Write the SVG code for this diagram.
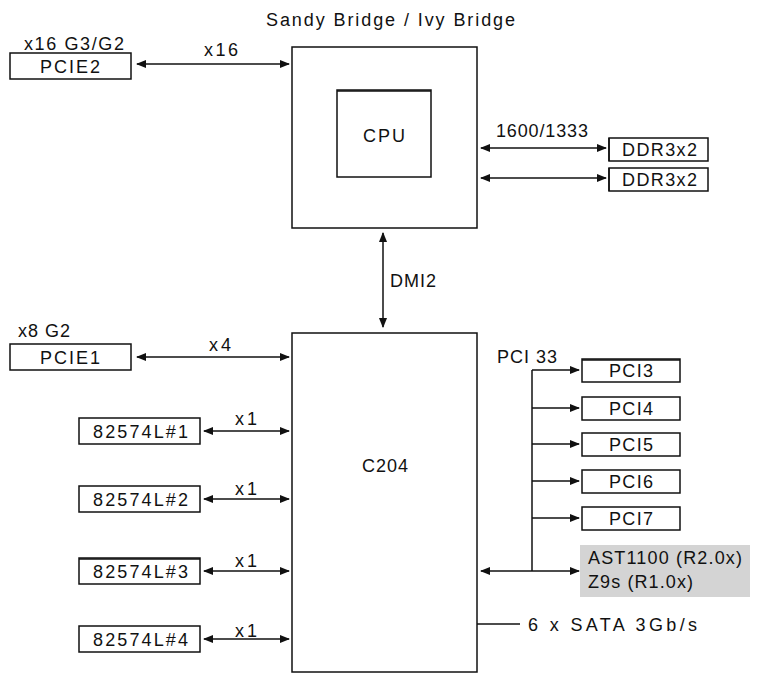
<svg xmlns="http://www.w3.org/2000/svg" width="757" height="678" viewBox="0 0 757 678">
<style>
text{font-family:"Liberation Sans",Arial,sans-serif;font-size:18px;fill:#111}
.b{fill:#fff;stroke:#111;stroke-width:1.5}
.l{stroke:#111;stroke-width:1.5;fill:none}
</style>
<defs>
<marker id="a" viewBox="0 0 10 10" refX="9" refY="5" markerWidth="7" markerHeight="7" orient="auto-start-reverse"><path d="M0,1 L10,5 L0,9 z" fill="#111"/></marker>
</defs>
<rect width="757" height="678" fill="#fff"/>
<text x="266" y="26" textLength="249" lengthAdjust="spacing">Sandy Bridge / Ivy Bridge</text>
<g id="cpu"><rect class="b" x="292" y="47" width="185" height="181"/><rect class="b" x="337" y="90" width="94" height="87"/><line class="l" x1="337" y1="91" x2="431" y2="91" stroke-width="3"/><text x="363" y="142" textLength="42" lengthAdjust="spacing">CPU</text></g>
<g id="pcie2"><text x="24" y="50" textLength="100" lengthAdjust="spacing">x16 G3/G2</text><rect class="b" x="10" y="53" width="121" height="26"/><text x="40" y="73" textLength="60" lengthAdjust="spacing">PCIE2</text></g>
<g id="ddr1"><rect class="b" x="609" y="138" width="99" height="23"/><line class="l" x1="609" y1="138" x2="609" y2="161" stroke-width="3"/><text x="622" y="156" textLength="75" lengthAdjust="spacing">DDR3x2</text></g>
<g id="ddr2"><rect class="b" x="609" y="168" width="99" height="23"/><line class="l" x1="609" y1="168" x2="609" y2="191" stroke-width="3"/><text x="622" y="186" textLength="75" lengthAdjust="spacing">DDR3x2</text></g>
<g id="c204"><rect class="b" x="292" y="333" width="185" height="339"/><text x="362" y="472" textLength="46" lengthAdjust="spacing">C204</text></g>
<g id="pcie1"><text x="18" y="337" textLength="52" lengthAdjust="spacing">x8 G2</text><rect class="b" x="10" y="344" width="121" height="26"/><text x="40" y="364" textLength="60" lengthAdjust="spacing">PCIE1</text></g>
<g id="l1"><rect class="b" x="79" y="418" width="121" height="26"/><text x="93" y="438" textLength="95" lengthAdjust="spacing">82574L#1</text></g>
<g id="l2"><rect class="b" x="79" y="486" width="121" height="26"/><text x="93" y="506" textLength="95" lengthAdjust="spacing">82574L#2</text></g>
<g id="l3"><rect class="b" x="79" y="558" width="121" height="26"/><line class="l" x1="79" y1="559" x2="200" y2="559" stroke-width="3"/><text x="93" y="578" textLength="95" lengthAdjust="spacing">82574L#3</text></g>
<g id="l4"><rect class="b" x="79" y="626" width="121" height="26"/><text x="93" y="646" textLength="95" lengthAdjust="spacing">82574L#4</text></g>
<g id="pci3"><rect class="b" x="582" y="359" width="98" height="23"/><line class="l" x1="582" y1="360" x2="680" y2="360" stroke-width="3"/><text x="609" y="377" textLength="44" lengthAdjust="spacing">PCI3</text></g>
<g id="pci4"><rect class="b" x="582" y="397" width="98" height="23"/><text x="609" y="415" textLength="44" lengthAdjust="spacing">PCI4</text></g>
<g id="pci5"><rect class="b" x="582" y="433" width="98" height="23"/><text x="609" y="451" textLength="44" lengthAdjust="spacing">PCI5</text></g>
<g id="pci6"><rect class="b" x="582" y="470" width="98" height="23"/><text x="609" y="488" textLength="44" lengthAdjust="spacing">PCI6</text></g>
<g id="pci7"><rect class="b" x="582" y="507" width="98" height="23"/><text x="609" y="525" textLength="44" lengthAdjust="spacing">PCI7</text></g>
<g id="ast"><rect x="580" y="545" width="170" height="52" fill="#d4d4d4"/><text x="588" y="564" textLength="154" lengthAdjust="spacing">AST1100 (R2.0x)</text><text x="588" y="588" textLength="105" lengthAdjust="spacing">Z9s (R1.0x)</text></g>
<g id="connectors">
<line class="l" x1="137" y1="64" x2="289" y2="64" marker-start="url(#a)" marker-end="url(#a)"/>
<text x="204" y="56" textLength="34" lengthAdjust="spacing">x16</text>
<text x="496" y="137" textLength="92" lengthAdjust="spacing">1600/1333</text>
<line class="l" x1="481" y1="148" x2="606" y2="148" marker-start="url(#a)" marker-end="url(#a)"/>
<line class="l" x1="481" y1="178" x2="606" y2="178" marker-start="url(#a)" marker-end="url(#a)"/>
<line class="l" x1="383" y1="233" x2="383" y2="327" marker-start="url(#a)" marker-end="url(#a)"/>
<text x="390" y="287" textLength="46" lengthAdjust="spacing">DMI2</text>
<line class="l" x1="137" y1="357" x2="289" y2="357" marker-start="url(#a)" marker-end="url(#a)"/>
<text x="209" y="351" textLength="22" lengthAdjust="spacing">x4</text>
<line class="l" x1="204" y1="431" x2="289" y2="431" marker-start="url(#a)" marker-end="url(#a)"/>
<text x="235" y="425" textLength="22" lengthAdjust="spacing">x1</text>
<line class="l" x1="204" y1="499" x2="289" y2="499" marker-start="url(#a)" marker-end="url(#a)"/>
<text x="235" y="495" textLength="22" lengthAdjust="spacing">x1</text>
<line class="l" x1="204" y1="571" x2="289" y2="571" marker-start="url(#a)" marker-end="url(#a)"/>
<text x="235" y="567" textLength="22" lengthAdjust="spacing">x1</text>
<line class="l" x1="204" y1="639" x2="289" y2="639" marker-start="url(#a)" marker-end="url(#a)"/>
<text x="235" y="637" textLength="22" lengthAdjust="spacing">x1</text>
<text x="497" y="363" textLength="60" lengthAdjust="spacing">PCI 33</text>
<line class="l" x1="532" y1="370" x2="532" y2="571"/>
<line class="l" x1="532" y1="370" x2="579" y2="370" marker-end="url(#a)"/>
<line class="l" x1="532" y1="408" x2="579" y2="408" marker-end="url(#a)"/>
<line class="l" x1="532" y1="444" x2="579" y2="444" marker-end="url(#a)"/>
<line class="l" x1="532" y1="481" x2="579" y2="481" marker-end="url(#a)"/>
<line class="l" x1="532" y1="518" x2="579" y2="518" marker-end="url(#a)"/>
<line class="l" x1="481" y1="571" x2="579" y2="571" marker-start="url(#a)" marker-end="url(#a)"/>
<line class="l" x1="477" y1="624" x2="520" y2="624"/>
<text x="528" y="631" textLength="169" lengthAdjust="spacing">6 x SATA 3Gb/s</text>
</g>
</svg>
